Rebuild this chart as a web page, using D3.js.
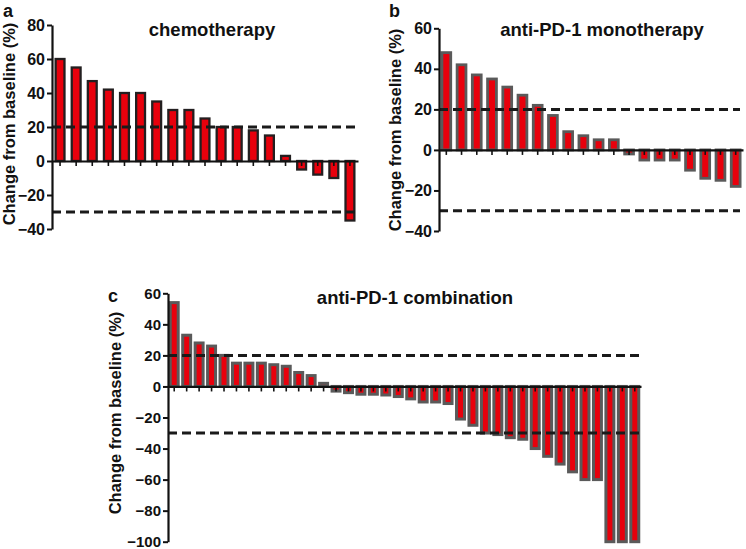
<!DOCTYPE html>
<html>
<head>
<meta charset="utf-8">
<script src="https://cdn.jsdelivr.net/npm/d3@7"></script>
<style>
  html, body { margin: 0; padding: 0; background: #fff; }
  svg { display: block; }
  text { font-family: "Liberation Sans", Arial, sans-serif; font-weight: bold; fill: #111; }
</style>
</head>
<body>
<svg id="chart" width="746" height="549"></svg>
<script>
// ---------- data ----------
const chemoValues = [60, 55, 47, 42, 40, 40, 35, 30, 30, 25, 20, 20, 18, 15, 3, -5, -8, -10, -35];
const monoValues  = [48, 42, 37, 35, 31, 27, 22, 17, 9, 7, 5, 5, -2, -5, -5, -5, -10, -14, -15, -18];
const comboValues = [54, 33, 28, 26, 20, 15, 15, 15, 14, 13, 9, 7, 2,
                     -3, -4, -5, -5, -5.5, -6.5, -8, -10, -10, -11,
                     -21, -25, -30, -31, -33, -34, -40, -45, -50, -55, -60, -60, -100, -100, -100];
const chemoTicks = [80, 60, 40, 20, 0, -20, -40];
const monoTicks  = [60, 40, 20, 0, -20, -40];
const comboTicks = [60, 40, 20, 0, -20, -40, -60, -80, -100];
const thresholds = [20, -30];
const titles = ["chemotherapy", "anti-PD-1 monotherapy", "anti-PD-1 combination"];
const panelLetters = ["a", "b", "c"];
const yLabel = "Change from baseline (%)";

// ---------- layout ----------
const svg = d3.select("#chart");
const RED = "#e8000c";

const panels = [
  { values: chemoValues, ticks: chemoTicks, title: titles[0], letter: panelLetters[0],
    xr: [52, 358], yd: [-40, 80], yr: [229, 25], pi: 0.45, po: 0.225,
    stroke: "#231f20", sw: 2.3, dashEnd: 360,
    titleX: 212, titleY: 36, letterX: 3, letterY: 17, labelX: 15, labelY: 124,
    tickFont: 16, tickFamily: null },
  { values: monoValues, ticks: monoTicks, title: titles[1], letter: panelLetters[1],
    xr: [439, 743], yd: [-40, 60], yr: [231, 28.3], pi: 0.42, po: 0.19,
    stroke: "#5a5a5a", sw: 2.8, dashEnd: 740,
    titleX: 602, titleY: 36, letterX: 389, letterY: 17, labelX: 401, labelY: 130,
    tickFont: 16, tickFamily: null },
  { values: comboValues, ticks: comboTicks, title: titles[2], letter: panelLetters[2],
    xr: [168, 641], yd: [-100, 60], yr: [541.7, 293.3], pi: 0.36, po: 0.18,
    stroke: "#5a5a5a", sw: 3, dashEnd: 639,
    titleX: 415, titleY: 304, letterX: 108, letterY: 302, labelX: 121, labelY: 413,
    tickFont: 15, tickFamily: "'Liberation Sans Narrow', 'Liberation Sans', Arial, sans-serif" }
];

panels.forEach(p => {
  const g = svg.append("g");
  const x = d3.scaleBand()
    .domain(d3.range(p.values.length))
    .range(p.xr)
    .paddingInner(p.pi)
    .paddingOuter(p.po);
  const y = d3.scaleLinear().domain(p.yd).range(p.yr);

  // bars
  g.append("g").selectAll("rect")
    .data(p.values)
    .join("rect")
    .attr("x", (d, i) => x(i))
    .attr("width", x.bandwidth())
    .attr("y", d => y(Math.max(0, d)))
    .attr("height", d => Math.abs(y(d) - y(0)))
    .attr("fill", RED)
    .attr("stroke", p.stroke)
    .attr("stroke-width", p.sw);

  // threshold dashed lines
  g.append("g").selectAll("line")
    .data(thresholds)
    .join("line")
    .attr("x1", p.xr[0])
    .attr("x2", p.dashEnd)
    .attr("y1", d => y(d))
    .attr("y2", d => y(d))
    .attr("stroke", "#1a1a1a")
    .attr("stroke-width", 3)
    .attr("stroke-dasharray", "9,5");

  // x axis at zero
  const xAxis = g.append("g")
    .attr("transform", `translate(0,${y(0)})`)
    .call(d3.axisBottom(x).tickSize(5).tickSizeOuter(0).tickFormat(""));
  xAxis.select(".domain").attr("stroke", "#111").attr("stroke-width", 2.2);
  xAxis.selectAll(".tick line").attr("stroke", "#111").attr("stroke-width", 1.6);

  // y axis
  const yAxis = g.append("g")
    .attr("transform", `translate(${p.xr[0]},0)`)
    .call(d3.axisLeft(y).tickValues(p.ticks).tickSize(5).tickSizeOuter(0).tickPadding(2));
  yAxis.select(".domain").attr("stroke", "#111").attr("stroke-width", 2.2);
  yAxis.selectAll(".tick line").attr("stroke", "#111").attr("stroke-width", 2);
  yAxis.selectAll(".tick text")
    .style("font-size", p.tickFont + "px")
    .style("font-weight", "bold")
    .style("font-family", p.tickFamily)
    .attr("fill", "#111");

  // title
  g.append("text")
    .attr("x", p.titleX).attr("y", p.titleY)
    .attr("text-anchor", "middle")
    .style("font-size", "18.5px")
    .text(p.title);

  // panel letter
  g.append("text")
    .attr("x", p.letterX).attr("y", p.letterY)
    .style("font-size", "18px")
    .text(p.letter);

  // y label
  g.append("text")
    .attr("transform", `translate(${p.labelX},${p.labelY}) rotate(-90)`)
    .attr("text-anchor", "middle")
    .style("font-size", "16.5px")
    .text(yLabel);
});
</script>
</body>
</html>
